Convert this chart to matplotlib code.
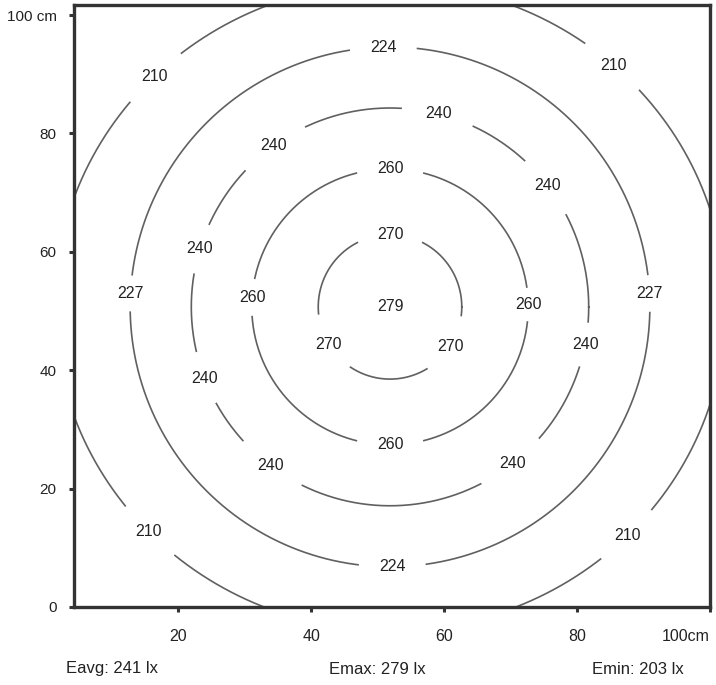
import numpy as np
import matplotlib
matplotlib.use('Agg')
import matplotlib.pyplot as plt

plt.rcParams['font.family'] = ['Liberation Sans', 'DejaVu Sans']

# centre of the isolux rings (cm)
cx, cy = 51.85, 50.7
# ring radii in cm (x and y)
ring_rx = [10.8, 20.8, 29.9, 39.1, 50.5]
ring_ry = [12.2, 23.3, 33.6, 43.9, 54.7]

# contour labels: ring index, text, angle (deg)
label_ring = [0, 0, 0,
              1, 1, 1, 1,
              2, 2, 2, 2, 2, 2, 2, 2,
              3, 3, 3, 3,
              4, 4, 4, 4]
label_text = ['270', '270', '270',
              '260', '260', '260', '260',
              '240', '240', '240', '240', '240', '240', '240', '240',
              '224', '224', '227', '227',
              '210', '210', '210', '210']
label_angle = [90, 211, 327,
               176, 1, 90, 270,
               76, 126, 163, 201, 233, 308, 349, 37.5,
               91.5, 270.5, 177, 3,
               134.6, 48.2, 224, 315]

xticks = [20, 40, 60, 80, 100]
xticklabels = ['20', '40', '60', '80', '100cm']
yticks = [0, 20, 40, 60, 80, 100]
yticklabels = ['0', '20', '40', '60', '80', '100 cm']
summary = ['Eavg: 241 lx', 'Emax: 279 lx', 'Emin: 203 lx']

fig = plt.figure(figsize=[7.16, 6.85], dpi=100)
ax = fig.add_axes([74 / 716, 78 / 685, 636 / 716, 602 / 685])
ax.set_xlim(4.3, 100)
ax.set_ylim(0, 101.7)

# pixel per cm, used for label gaps
p0 = ax.transData.transform((0, 0))
sx = ax.transData.transform((1, 0))[0] - p0[0]

w_lab, h_lab = 26, 13
t = np.linspace(0, 2 * np.pi, 2000)
for i in range(len(ring_rx)):
    xs = cx + ring_rx[i] * np.cos(t)
    ys = cy + ring_ry[i] * np.sin(t)
    r_px = ring_rx[i] * sx
    mask = np.zeros(len(t), dtype=bool)
    for j in range(len(label_ring)):
        if label_ring[j] != i:
            continue
        a = np.radians(label_angle[j])
        gap = 2.6 * (abs(np.sin(a)) * w_lab + abs(np.cos(a)) * h_lab)
        half = gap / 2 / r_px
        d = np.angle(np.exp(1j * (t - a)))
        mask |= np.abs(d) < half
    xs[mask] = np.nan
    ys[mask] = np.nan
    ax.plot(xs, ys, color='#606060', linewidth=1.2)

for j in range(len(label_ring)):
    i = label_ring[j]
    a = np.radians(label_angle[j])
    ax.text(cx + ring_rx[i] * np.cos(a), cy + ring_ry[i] * np.sin(a),
            label_text[j], ha='center', va='center', fontsize=11.5,
            color='#222222')

ax.text(cx, cy, '279', ha='center', va='center', fontsize=11.5,
        color='#222222')

for s in ax.spines.values():
    s.set_linewidth(2.4)
    s.set_color('#333333')
ax.set_xticks(xticks)
ax.set_xticklabels(xticklabels)
ax.set_yticks(yticks)
ax.set_yticklabels(yticklabels)
ax.get_xticklabels()[-1].set_horizontalalignment('right')
ax.tick_params(axis='x', length=3.5, width=2.2, color='#333333', pad=12,
               labelsize=11.5, labelcolor='#222222')
ax.tick_params(axis='y', length=3.5, width=2.2, color='#333333', pad=9,
               labelsize=11, labelcolor='#222222')

summary_x = [112, 377, 638]
for k in range(len(summary)):
    fig.text(summary_x[k] / 716, 1 - 669 / 685, summary[k], ha='center',
             va='center', fontsize=12, color='#222222')

plt.savefig('out.png', dpi=100)
